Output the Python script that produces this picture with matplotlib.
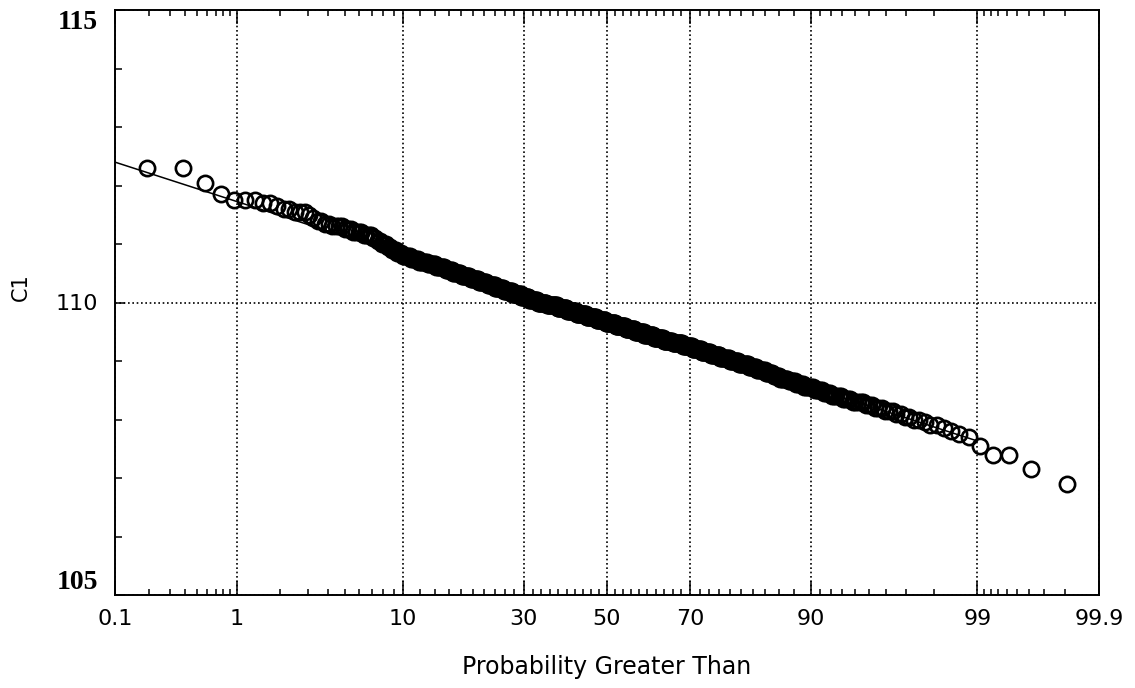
import numpy as np
import matplotlib
matplotlib.use('Agg')
import matplotlib.pyplot as plt
from matplotlib.ticker import FixedLocator, FixedFormatter, NullFormatter
from statistics import NormalDist

# C1 readings (to 0.05) and number of observations at each, largest first
c1_values = [112.30, 112.05, 111.85, 111.75, 111.70, 111.65, 111.60, 111.55,
             111.50, 111.45, 111.40, 111.35, 111.30, 111.25, 111.20, 111.15,
             111.10, 111.05, 111.00, 110.95, 110.90, 110.85, 110.80, 110.75,
             110.70, 110.65, 110.60, 110.55, 110.50, 110.45, 110.40, 110.35,
             110.30, 110.25, 110.20, 110.15, 110.10, 110.05, 110.00, 109.95,
             109.90, 109.85, 109.80, 109.75, 109.70, 109.65, 109.60, 109.55,
             109.50, 109.45, 109.40, 109.35, 109.30, 109.25, 109.20, 109.15,
             109.10, 109.05, 109.00, 108.95, 108.90, 108.85, 108.80, 108.75,
             108.70, 108.65, 108.60, 108.55, 108.50, 108.45, 108.40, 108.35,
             108.30, 108.25, 108.20, 108.15, 108.10, 108.05, 108.00, 107.95,
             107.90, 107.85, 107.80, 107.75, 107.70, 107.55, 107.40, 107.15,
             106.90]
c1_counts = [2, 1, 1, 3, 2, 1, 2, 3,
             1, 1, 2, 2, 4, 3, 4, 4,
             2, 2, 3, 2, 3, 3, 5, 5,
             6, 6, 7, 6, 7, 8, 8, 8,
             8, 9, 9, 10, 9, 10, 11, 13,
             12, 12, 13, 13, 12, 13, 13, 12,
             12, 12, 12, 11, 12, 11, 10, 10,
             10, 9, 9, 9, 7, 7, 6, 5,
             6, 5, 5, 6, 5, 4, 5, 4,
             5, 3, 3, 3, 2, 2, 2, 1,
             2, 1, 1, 1, 1, 1, 2, 1,
             1]

# fitted normal line
fit_mean = 109.68
fit_sd = 0.88
line_pct = [0.1, 99.0]

tick_pct = [0.1, 1, 10, 30, 50, 70, 90, 99, 99.9]
tick_txt = ['0.1', '1', '10', '30', '50', '70', '90', '99', '99.9']
minor_pct = ([0.2, 0.3, 0.4, 0.5, 0.6, 0.7, 0.8, 0.9]
             + [2, 3, 4, 5, 6, 7, 8, 9]
             + [12, 14, 16, 18, 20, 22, 24, 26, 28]
             + [32, 34, 36, 38, 40, 42, 44, 46, 48]
             + [52, 54, 56, 58, 60, 62, 64, 66, 68]
             + [72, 74, 76, 78, 80, 82, 84, 86, 88]
             + [91, 92, 93, 94, 95, 96, 97, 98]
             + [99.1, 99.2, 99.3, 99.4, 99.5, 99.6, 99.7, 99.8])

nd = NormalDist()
_inv = np.vectorize(nd.inv_cdf, otypes=[float])
_cdf = np.vectorize(nd.cdf, otypes=[float])

def to_z(p):
    p = np.clip(np.asarray(p, dtype=float) / 100.0, 1e-7, 1 - 1e-7)
    return _inv(p)

def from_z(z):
    return _cdf(np.asarray(z, dtype=float)) * 100.0

c1 = np.repeat(c1_values, c1_counts)
n = len(c1)
pct = 100.0 * np.arange(1, n + 1) / (n + 1)
line_c1 = fit_mean - fit_sd * to_z(line_pct)

plt.rcParams['font.family'] = ['DejaVu Sans']

fig = plt.figure(figsize=(11.35, 6.88), dpi=100)
ax = fig.add_axes([115/1135, 1 - 595/688, 984/1135, 585/688])
ax.set_xscale('function', functions=(to_z, from_z))

ax.plot(line_pct, line_c1, color='k', lw=1.1, zorder=2)
ax.plot(pct, c1, 'o', mfc='none', mec='k', ms=11, mew=1.9, zorder=3)

ax.set_xlim(0.1, 99.9)
ax.set_ylim(105, 115)

ax.xaxis.set_major_locator(FixedLocator(tick_pct))
ax.xaxis.set_major_formatter(FixedFormatter(tick_txt))
ax.xaxis.set_minor_locator(FixedLocator(minor_pct))
ax.xaxis.set_minor_formatter(NullFormatter())
ax.yaxis.set_major_locator(FixedLocator([105, 110, 115]))
ax.yaxis.set_minor_locator(FixedLocator([106, 107, 108, 109, 111, 112, 113, 114]))

ax.grid(True, which='major', color='k', lw=1.2, ls=(0, (1, 1.6)), zorder=1)

for s in ax.spines.values():
    s.set_linewidth(1.4)

ax.tick_params(axis='x', which='both', direction='in', top=True, width=1.1,
               labelsize=16, pad=10)
ax.tick_params(axis='x', which='major', length=10)
ax.tick_params(axis='x', which='minor', length=4.3)
ax.tick_params(axis='y', which='both', direction='in', right=False, width=1.1,
               labelsize=16, pad=12)
ax.tick_params(axis='y', which='major', length=7)
ax.tick_params(axis='y', which='minor', length=5)

ylabs = ax.get_yticklabels()
for lab in (ylabs[0], ylabs[2]):
    lab.set_fontfamily('Liberation Serif')
    lab.set_fontweight('bold')
    lab.set_fontsize(20)
ylabs[0].set_verticalalignment('bottom')
ylabs[2].set_verticalalignment('top')

ax.set_xlabel('Probability Greater Than', fontsize=17, va='center')
ax.xaxis.set_label_coords(0.5, (595 - 667) / 585)
ax.set_ylabel('C1', fontsize=15, va='center')
ax.yaxis.set_label_coords((21 - 115) / 984, (595 - 287) / 585)

fig.savefig('out.png', dpi=100)
